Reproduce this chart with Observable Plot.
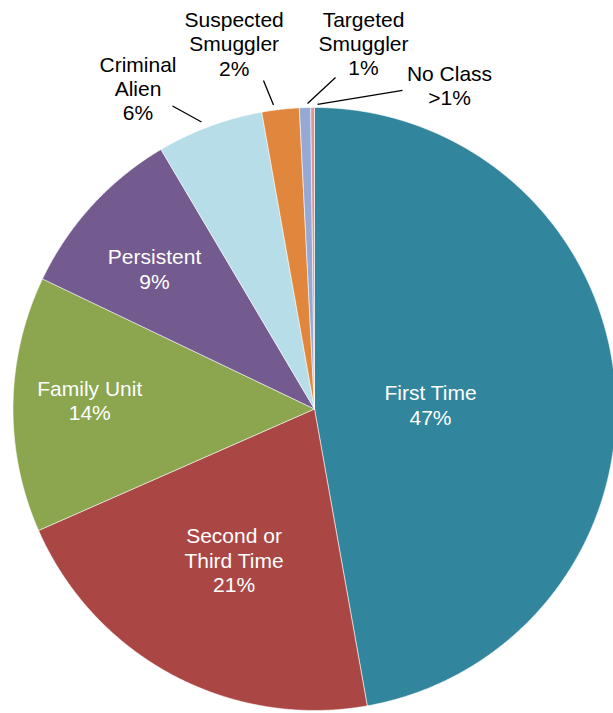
<!DOCTYPE html>
<html>
<head>
<meta charset="utf-8">
<script src="https://cdn.jsdelivr.net/npm/d3@7"></script>
<script src="https://cdn.jsdelivr.net/npm/@observablehq/plot@0.6"></script>
<style>
  html, body { margin: 0; padding: 0; background: #fff; overflow: hidden; }
  #chart svg { display: block; }
</style>
</head>
<body>
<div id="chart"></div>
<script>
// ---- data ----
const categories = ["First Time", "Second or Third Time", "Family Unit", "Persistent",
  "Criminal Alien", "Suspected Smuggler", "Targeted Smuggler", "No Class"];
const shares = [47.2, 21.2, 13.7, 9.4, 5.7, 2.0, 0.6, 0.2];
const labelTexts = ["First Time\n47%", "Second or\nThird Time\n21%", "Family Unit\n14%", "Persistent\n9%",
  "Criminal\nAlien\n6%", "Suspected\nSmuggler\n2%", "Targeted\nSmuggler\n1%", "No Class\n>1%"];
const colors = ["#31859C", "#AA4744", "#8BA64F", "#735A8F", "#B7DDE8", "#E0873D", "#95A9D4", "#D99694"];

// ---- layout (not data) ----
const W = 613, H = 713, cx = 314, cy = 408.5, R = 301.5;
// inside labels: radius fraction and angular shift (degrees) from the slice's mid angle
const insideLayout = {
  "First Time": {r: 0.385, shift: 3},
  "Second or Third Time": {r: 0.567, shift: 0},
  "Family Unit": {r: 0.746, shift: 1.3},
  "Persistent": {r: 0.706, shift: -1.2}
};
// pixel offsets from the slice's outer edge point at its mid angle
const outsideOffsets = {
  "Criminal Alien":     {tx: -71.7, ty: -5.8,  l0: [-8.2, -4.3], l1: [-37.2, -20.3]},
  "Suspected Smuggler": {tx: -46.3, ty: -33.9, l0: [-7, -4.4],   l1: [-17, -28.9]},
  "Targeted Smuggler":  {tx: 58.5,  ty: -32.2, l0: [2.5, -4.2],  l1: [30.5, -30.2]},
  "No Class":           {tx: 136.9, ty: -2.1,  l0: [4.9, -3.1],  l1: [89.9, -17.1]}
};

const data = categories.map((c, i) => ({category: c, value: shares[i], label: labelTexts[i]}));
const arcs = d3.pie().sort(null).value(d => d.value)(data);
const pt = (a, r) => ({x: r * Math.sin(a), y: -r * Math.cos(a)});

const slicePts = [];
for (const a of arcs) {
  const c = a.data.category;
  slicePts.push({category: c, x: 0, y: 0});
  const n = Math.max(2, Math.ceil((a.endAngle - a.startAngle) / (Math.PI / 720)));
  for (let i = 0; i <= n; i++) {
    const ang = a.startAngle + (a.endAngle - a.startAngle) * i / n;
    slicePts.push({category: c, ...pt(ang, 1)});
  }
  slicePts.push({category: c, x: 0, y: 0});
}

const insideLabels = [], outsideLabels = [], leaders = [];
for (const a of arcs) {
  const c = a.data.category;
  const mid = (a.startAngle + a.endAngle) / 2;
  if (insideLayout[c] != null) {
    const L = insideLayout[c];
    insideLabels.push({label: a.data.label, ...pt(mid + L.shift * Math.PI / 180, L.r)});
  } else {
    const e = pt(mid, 1), o = outsideOffsets[c];
    outsideLabels.push({label: a.data.label, x: e.x + o.tx / R, y: e.y + o.ty / R});
    leaders.push({x1: e.x + o.l0[0] / R, y1: e.y + o.l0[1] / R, x2: e.x + o.l1[0] / R, y2: e.y + o.l1[1] / R});
  }
}

const font = "'Liberation Sans', Arial, Helvetica, sans-serif";
const chart = Plot.plot({
  width: W, height: H, margin: 0,
  style: {fontFamily: font, background: "#fff", overflow: "hidden"},
  x: {domain: [-cx / R, (W - cx) / R], range: [0, W], axis: null},
  y: {domain: [-cy / R, (H - cy) / R], range: [0, H], axis: null},
  color: {domain: categories, range: colors},
  marks: [
    Plot.line(slicePts, {x: "x", y: "y", z: "category", fill: "category", stroke: "white", strokeWidth: 0.8, strokeOpacity: 0.7, curve: "linear"}),
    Plot.link(leaders, {x1: "x1", y1: "y1", x2: "x2", y2: "y2", stroke: "black", strokeWidth: 1.3}),
    Plot.text(insideLabels, {x: "x", y: "y", text: "label", fill: "white", fontSize: 21, lineHeight: 1.165, lineAnchor: "middle", textAnchor: "middle", fontFamily: font}),
    Plot.text(outsideLabels, {x: "x", y: "y", text: "label", fill: "black", fontSize: 21, lineHeight: 1.165, lineAnchor: "bottom", textAnchor: "middle", fontFamily: font})
  ]
});
document.getElementById("chart").appendChild(chart);
</script>
</body>
</html>
